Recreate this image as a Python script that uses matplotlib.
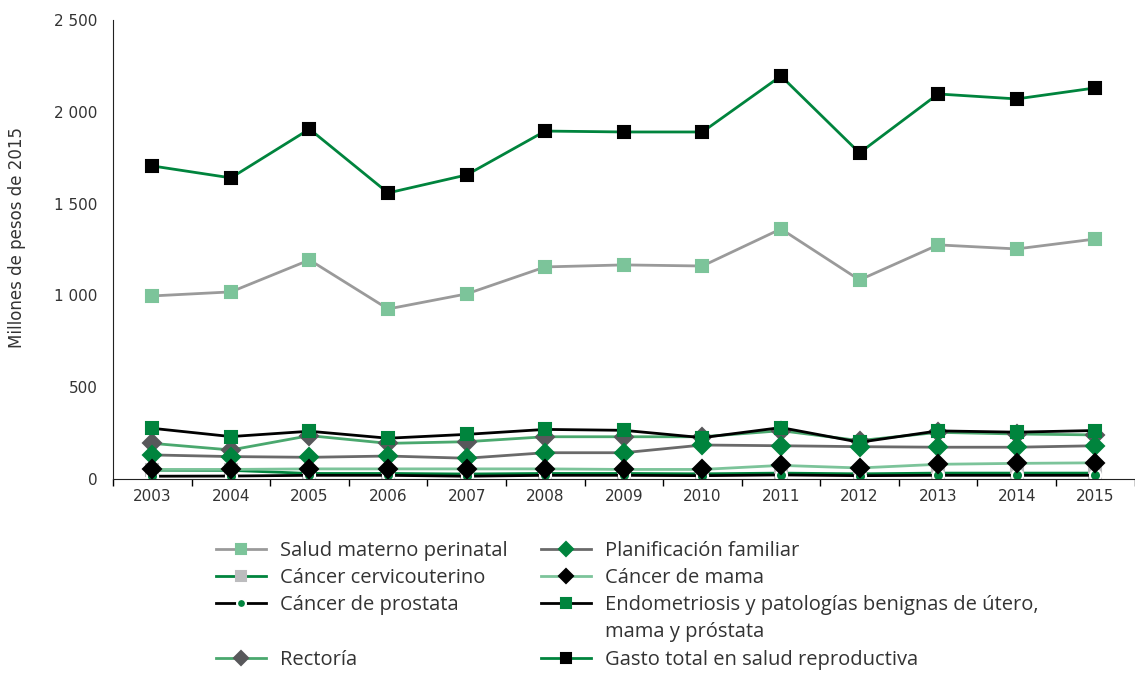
import matplotlib
matplotlib.use("Agg")
import matplotlib.pyplot as plt
from matplotlib.lines import Line2D
from matplotlib.ticker import FuncFormatter, FixedLocator

plt.rcParams['font.family'] = ['Open Sans', 'DejaVu Sans']

years = ['2003', '2004', '2005', '2006', '2007', '2008', '2009',
         '2010', '2011', '2012', '2013', '2014', '2015']

salud_materno = [997, 1019, 1193, 926, 1008, 1155, 1166, 1160, 1362, 1084, 1275, 1253, 1307]
planificacion = [131, 122, 118, 125, 113, 143, 143, 185, 181, 176, 173, 173, 181]
cervicouterino = [48, 47, 30, 30, 27, 30, 30, 28, 32, 28, 32, 32, 32]
mama = [52, 52, 55, 55, 55, 55, 52, 52, 74, 60, 80, 85, 88]
prostata = [15, 16, 20, 20, 15, 20, 20, 18, 22, 18, 20, 20, 20]
endometriosis = [276, 231, 260, 222, 243, 270, 265, 225, 280, 200, 262, 255, 264]
rectoria = [194, 158, 236, 194, 203, 230, 230, 230, 263, 209, 254, 245, 240]
gasto_total = [1705, 1640, 1906, 1558, 1656, 1895, 1890, 1890, 2195, 1776, 2097, 2070, 2130]

GREEN = '#00843d'
LIGHT_GREEN = '#7cc49a'
MID_GREEN = '#4aa86e'
GREY = '#9a9a9a'
DARK_GREY = '#58585b'
LIGHT_GREY = '#bcbcbe'
TEXT = '#333333'

fig = plt.figure(figsize=(11.35, 6.75), dpi=100)
ax = fig.add_axes([0.0996, 0.2904, 0.9, 0.68])

x = list(range(len(years)))
lw = 2.0
ms = 9

series = [
    ('Salud materno perinatal', salud_materno, GREY, 's', LIGHT_GREEN, LIGHT_GREEN, ms),
    ('Cáncer cervicouterino', cervicouterino, GREEN, 's', LIGHT_GREY, LIGHT_GREY, ms),
    ('Cáncer de prostata', prostata, 'black', 'o', GREEN, 'white', 8),
    ('Rectoría', rectoria, MID_GREEN, 'D', DARK_GREY, DARK_GREY, ms),
    ('Planificación familiar', planificacion, '#6a6a6a', 'D', GREEN, GREEN, ms),
    ('Cáncer de mama', mama, LIGHT_GREEN, 'D', 'black', 'black', ms),
    ('Endometriosis y patologías benignas de útero,', endometriosis, 'black', 's', GREEN, GREEN, ms),
    ('Gasto total en salud reproductiva', gasto_total, GREEN, 's', 'black', 'black', ms),
]

handles = {}
for label, vals, lc, mk, mfc, mec, size in series:
    h, = ax.plot(x, vals, color=lc, lw=lw, marker=mk, markerfacecolor=mfc,
                 markeredgecolor=mec, markersize=size, markeredgewidth=1.5,
                 label=label)
    handles[label] = h

ax.set_xlim(-0.5, len(years) - 0.5)
ax.set_ylim(0, 2500)
ax.set_yticks([0, 500, 1000, 1500, 2000, 2500])
ax.yaxis.set_major_formatter(FuncFormatter(lambda v, p: f"{int(v):,}".replace(",", " ")))
ax.set_xticks(x)
ax.set_xticklabels(years)
ax.xaxis.set_minor_locator(FixedLocator([i + 0.5 for i in range(-1, len(years))]))
ax.tick_params(axis='x', which='major', length=0, pad=7, colors=TEXT,
               labelsize=11, labelfontfamily='DejaVu Sans')
ax.tick_params(axis='x', which='minor', length=5, width=1, direction='out')
ax.tick_params(axis='y', length=0, pad=11, colors=TEXT,
               labelsize=11, labelfontfamily='DejaVu Sans')
ax.set_ylabel('Millones de pesos de 2015', fontsize=12, color=TEXT, family='DejaVu Sans')
ax.yaxis.set_label_coords(-0.085, 0.527)

for s in ['top', 'right']:
    ax.spines[s].set_visible(False)
ax.spines['left'].set_color('#222222')
ax.spines['bottom'].set_color('#222222')

# blank handle: keeps the rows of both columns aligned
blank = Line2D([], [], linestyle='none', marker='none')

left_handles = [handles['Salud materno perinatal'], handles['Cáncer cervicouterino'],
                handles['Cáncer de prostata'], blank, handles['Rectoría']]
left_labels = ['Salud materno perinatal', 'Cáncer cervicouterino',
               'Cáncer de prostata', ' ', 'Rectoría']
right_handles = [handles['Planificación familiar'], handles['Cáncer de mama'],
                 handles['Endometriosis y patologías benignas de útero,'], blank,
                 handles['Gasto total en salud reproductiva']]
right_labels = ['Planificación familiar', 'Cáncer de mama',
                'Endometriosis y patologías benignas de útero,', 'mama y próstata',
                'Gasto total en salud reproductiva']

leg_kw = dict(frameon=False, fontsize=14.5, handlelength=2.5, handletextpad=0.7,
              labelspacing=0.36, borderpad=0, borderaxespad=0, labelcolor=TEXT,
              markerscale=0.8)
fig.legend(left_handles, left_labels, loc='upper left',
           bbox_to_anchor=(0.190, 0.199), **leg_kw)
fig.legend(right_handles, right_labels, loc='upper left',
           bbox_to_anchor=(0.4767, 0.199), **leg_kw)

fig.savefig('out.png', dpi=100)
